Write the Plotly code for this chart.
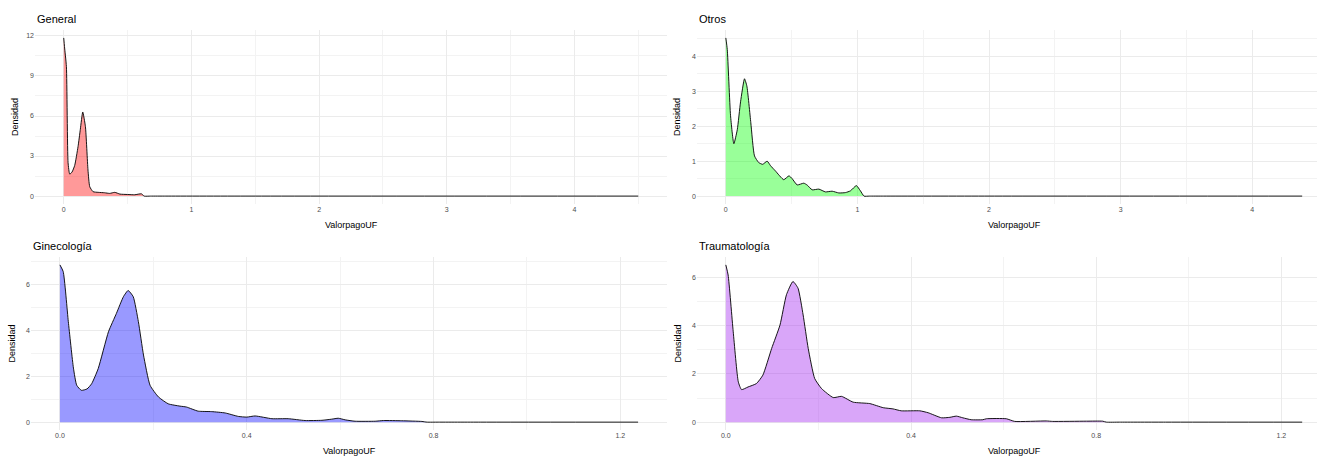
import plotly.graph_objects as go

W, H = 1317, 457

# ---- density estimates of ValorpagoUF by specialty ----
gen_x = [0.0, 0.006, 0.021, 0.034, 0.047, 0.065, 0.086, 0.112, 0.13, 0.149, 0.17, 0.19,
         0.204, 0.23, 0.27, 0.32, 0.36, 0.40, 0.44, 0.50, 0.556, 0.608, 0.63, 0.68, 0.8,
         1.5, 4.5]
gen_y = [11.85, 11.2, 9.7, 2.5, 1.65, 1.8, 2.3, 3.7, 5.0, 6.3, 5.2, 1.95,
         0.7, 0.33, 0.28, 0.25, 0.2, 0.28, 0.15, 0.12, 0.1, 0.17, 0.0, 0.0, 0.0,
         0.0, 0.0]

otr_x = [0.0, 0.011, 0.036, 0.061, 0.087, 0.112, 0.142, 0.16, 0.19, 0.218, 0.25, 0.28,
         0.314, 0.34, 0.377, 0.44, 0.48, 0.504, 0.542, 0.593, 0.62, 0.656, 0.707, 0.757,
         0.808, 0.859, 0.909, 0.947, 0.992, 1.023, 1.05, 1.09, 1.2, 2.0, 4.38]
otr_y = [4.53, 4.2, 2.3, 1.5, 1.9, 2.7, 3.36, 3.15, 2.1, 1.15, 0.96, 0.91,
         1.0, 0.87, 0.72, 0.47, 0.58, 0.5, 0.32, 0.37, 0.31, 0.18, 0.2, 0.12,
         0.14, 0.09, 0.1, 0.15, 0.3, 0.15, 0.0, 0.0, 0.0, 0.0, 0.0]

gin_x = [0.0, 0.007, 0.018, 0.029, 0.036, 0.046, 0.058, 0.068, 0.082, 0.104, 0.121, 0.136,
         0.146, 0.157, 0.168, 0.179, 0.193, 0.211, 0.232, 0.257, 0.271, 0.296, 0.325, 0.354,
         0.382, 0.40, 0.418, 0.454, 0.489, 0.525, 0.561, 0.582, 0.596, 0.611, 0.632, 0.675,
         0.693, 0.732, 0.775, 0.786, 0.81, 0.9, 1.238]
gin_y = [6.87, 6.58, 4.39, 2.36, 1.61, 1.39, 1.45, 1.68, 2.34, 3.95, 4.75, 5.48,
         5.75, 5.48, 4.39, 2.93, 1.61, 1.1, 0.8, 0.7, 0.66, 0.48, 0.46, 0.4,
         0.25, 0.22, 0.27, 0.15, 0.15, 0.07, 0.08, 0.13, 0.17, 0.1, 0.04, 0.04,
         0.07, 0.06, 0.03, 0.0, 0.0, 0.0, 0.0]

tra_x = [0.0, 0.005, 0.016, 0.027, 0.034, 0.048, 0.066, 0.08, 0.099, 0.117, 0.131, 0.145,
         0.156, 0.167, 0.178, 0.192, 0.207, 0.232, 0.25, 0.275, 0.311, 0.34, 0.361, 0.379,
         0.419, 0.437, 0.466, 0.484, 0.498, 0.512, 0.53, 0.555, 0.563, 0.606, 0.624, 0.692,
         0.706, 0.779, 0.814, 0.822, 0.85, 0.95, 1.245]
tra_y = [6.53, 6.11, 3.75, 1.67, 1.35, 1.46, 1.6, 1.95, 3.06, 4.03, 5.29, 5.84,
         5.56, 4.45, 3.06, 1.81, 1.39, 1.02, 1.07, 0.83, 0.77, 0.6, 0.55, 0.47,
         0.47, 0.39, 0.18, 0.2, 0.25, 0.18, 0.1, 0.1, 0.14, 0.14, 0.03, 0.05,
         0.03, 0.04, 0.04, 0.0, 0.0, 0.0, 0.0]

titles = ["General", "Otros", "Ginecología", "Traumatología"]
fills = ["rgba(255,0,0,0.4)", "rgba(0,255,0,0.4)", "rgba(0,0,255,0.4)", "rgba(160,32,240,0.4)"]
series = [(gen_x, gen_y), (otr_x, otr_y), (gin_x, gin_y), (tra_x, tra_y)]
x_major = [1, 1, 0.4, 0.4]
y_major = [3, 1, 2, 2]
x_fmt = ["d", "d", ".1f", ".1f"]

# panel boxes in pixels: left, right (full panel, may run past the canvas), top, bottom
panels = [(35, 667, 30, 204), (697, 1331, 30, 204),
          (31, 667, 257, 430), (697, 1331, 257, 430)]

FONT = "Liberation Sans, Arial, sans-serif"
GRID = "#ebebeb"

fig = go.Figure()
annotations = []
for i, ((xs, ys), title, fc) in enumerate(zip(series, titles, fills)):
    n = "" if i == 0 else str(i + 1)
    fig.add_trace(go.Scatter(
        x=xs, y=ys, mode="lines", fill="tozeroy", fillcolor=fc,
        line=dict(color="#000000", width=0.9, shape="spline", smoothing=0.5),
        xaxis="x" + n, yaxis="y" + n, showlegend=False, hoverinfo="skip"))

    left, right, top, bottom = panels[i]
    xmax = max(xs)
    ymax = max(ys)
    x0 = -0.05 * xmax
    x1_full = xmax * 1.05
    vis_right = min(right, W)
    x1 = x0 + (x1_full - x0) * (vis_right - left) / (right - left)

    fig.layout["xaxis" + n] = dict(
        domain=[left / W, vis_right / W], range=[x0, x1], anchor="y" + n,
        tick0=0, dtick=x_major[i], tickformat=x_fmt[i],
        showgrid=True, gridcolor=GRID, gridwidth=1,
        minor=dict(dtick=x_major[i] / 2, showgrid=True, gridcolor="#f3f3f3", gridwidth=1),
        zeroline=False, showline=False, ticks="",
        tickfont=dict(family=FONT, size=7, color="#4d4d4d"))
    fig.layout["yaxis" + n] = dict(
        domain=[1 - bottom / H, 1 - top / H], range=[-0.05 * ymax, ymax * 1.05],
        anchor="x" + n, tick0=0, dtick=y_major[i],
        showgrid=True, gridcolor=GRID, gridwidth=1,
        minor=dict(dtick=y_major[i] / 2, showgrid=True, gridcolor="#f3f3f3", gridwidth=1),
        zeroline=False, showline=False, ticks="",
        tickfont=dict(family=FONT, size=7, color="#4d4d4d"))

    annotations.append(dict(
        text=title, x=left / W, y=1 - (top - 11) / H, xref="paper", yref="paper",
        xanchor="left", yanchor="middle", showarrow=False,
        font=dict(family=FONT, size=11, color="#000000")))
    annotations.append(dict(
        text="ValorpagoUF", x=(left + right) / 2 / W, y=1 - (bottom + 21) / H,
        xref="paper", yref="paper", xanchor="center", yanchor="middle", showarrow=False,
        font=dict(family=FONT, size=9, color="#000000")))
    annotations.append(dict(
        text="Densidad", x=(left - 20) / W, y=1 - (top + bottom) / 2 / H,
        xref="paper", yref="paper", xanchor="center", yanchor="middle", showarrow=False,
        textangle=-90, font=dict(family=FONT, size=9, color="#000000")))

fig.update_layout(
    width=W, height=H, margin=dict(l=0, r=0, t=0, b=0),
    paper_bgcolor="white", plot_bgcolor="white",
    annotations=annotations)

fig.write_html("out.html")
